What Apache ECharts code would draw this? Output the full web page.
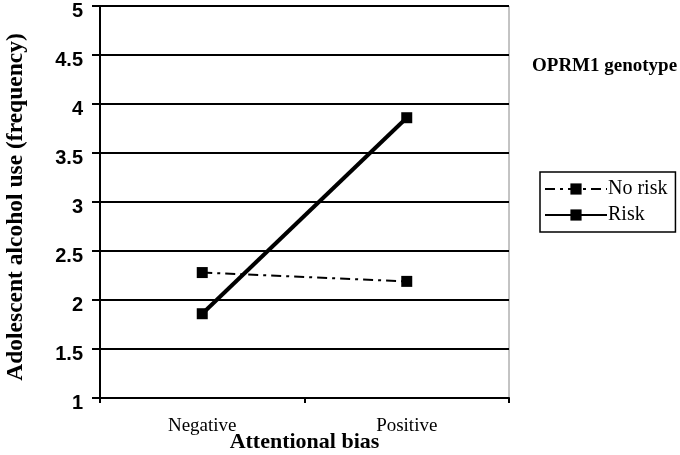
<!DOCTYPE html>
<html><head><meta charset="utf-8">
<script src="https://cdn.jsdelivr.net/npm/echarts@6/dist/echarts.min.js"></script>
<style>html,body{margin:0;padding:0;background:#fff}#c{width:680px;height:455px}</style>
</head><body><div id="c"></div>
<script>
const categories = ['Negative', 'Positive'];
const noRisk = [2.28, 2.19];
const risk = [1.86, 3.86];
const seriesNames = ['No risk', 'Risk'];
const yTicks = [1, 1.5, 2, 2.5, 3, 3.5, 4, 4.5, 5];

const serif = 'Liberation Serif, Times New Roman, serif';
const sans = 'Liberation Sans, Arial, sans-serif';
const chart = echarts.init(document.getElementById('c'), null, {renderer: 'canvas'});
chart.setOption({
  animation: false,
  backgroundColor: '#fff',
  title: {
    text: 'OPRM1 genotype', left: 527, top: 52,
    textStyle: {fontFamily: serif, fontWeight: 'bold', fontSize: 19, color: '#000'}
  },
  grid: {left: 100, right: 171, top: 6, bottom: 57, show: true, borderColor: '#888', borderWidth: 1,
    outerBoundsMode: 'none', containLabel: false},
  legend: {
    orient: 'vertical', left: 540, top: 172,
    data: seriesNames,
    itemWidth: 62, itemHeight: 14, itemGap: 6,
    padding: [7, 8, 7, 4],
    borderColor: '#000', borderWidth: 1.5,
    textStyle: {fontFamily: serif, fontSize: 20, color: '#000', padding: [0, 0, 0, -4]}
  },
  xAxis: {
    type: 'category', data: categories, boundaryGap: true,
    name: 'Attentional bias', nameLocation: 'middle', nameGap: 33, nameMoveOverlap: false,
    nameTextStyle: {fontFamily: serif, fontWeight: 'bold', fontSize: 22, color: '#000'},
    axisLine: {lineStyle: {color: '#000', width: 2}},
    axisTick: {show: true, length: 5, lineStyle: {color: '#000', width: 2}},
    axisLabel: {fontFamily: serif, fontSize: 19, color: '#000', margin: 19}
  },
  yAxis: {
    type: 'value', min: 1, max: 5, interval: 0.5,
    name: 'Adolescent alcohol use (frequency)', nameLocation: 'middle', nameGap: 72, nameMoveOverlap: false,
    nameTextStyle: {fontFamily: serif, fontWeight: 'bold', fontSize: 23.5, color: '#000', padding: [0, 10, 0, 0]},
    axisLine: {show: true, lineStyle: {color: '#000', width: 2}},
    axisTick: {show: true, length: 8, lineStyle: {color: '#000', width: 2}},
    axisLabel: {fontFamily: sans, fontWeight: 'bold', fontSize: 20, color: '#000', margin: 17,
      verticalAlign: 'top', lineHeight: 10,
      formatter: v => yTicks.includes(v) ? String(v) : ''},
    splitLine: {show: true, lineStyle: {color: '#000', width: 2}}
  },
  series: [
    {
      name: seriesNames[0], type: 'line', data: noRisk,
      symbol: 'rect', symbolSize: 11,
      itemStyle: {color: '#000'},
      lineStyle: {color: '#000', width: 2, type: [10, 5, 3, 5]}
    },
    {
      name: seriesNames[1], type: 'line', data: risk,
      symbol: 'rect', symbolSize: 11,
      itemStyle: {color: '#000'},
      lineStyle: {color: '#000', width: 4, type: 'solid'}
    }
  ]
});
</script></body></html>
